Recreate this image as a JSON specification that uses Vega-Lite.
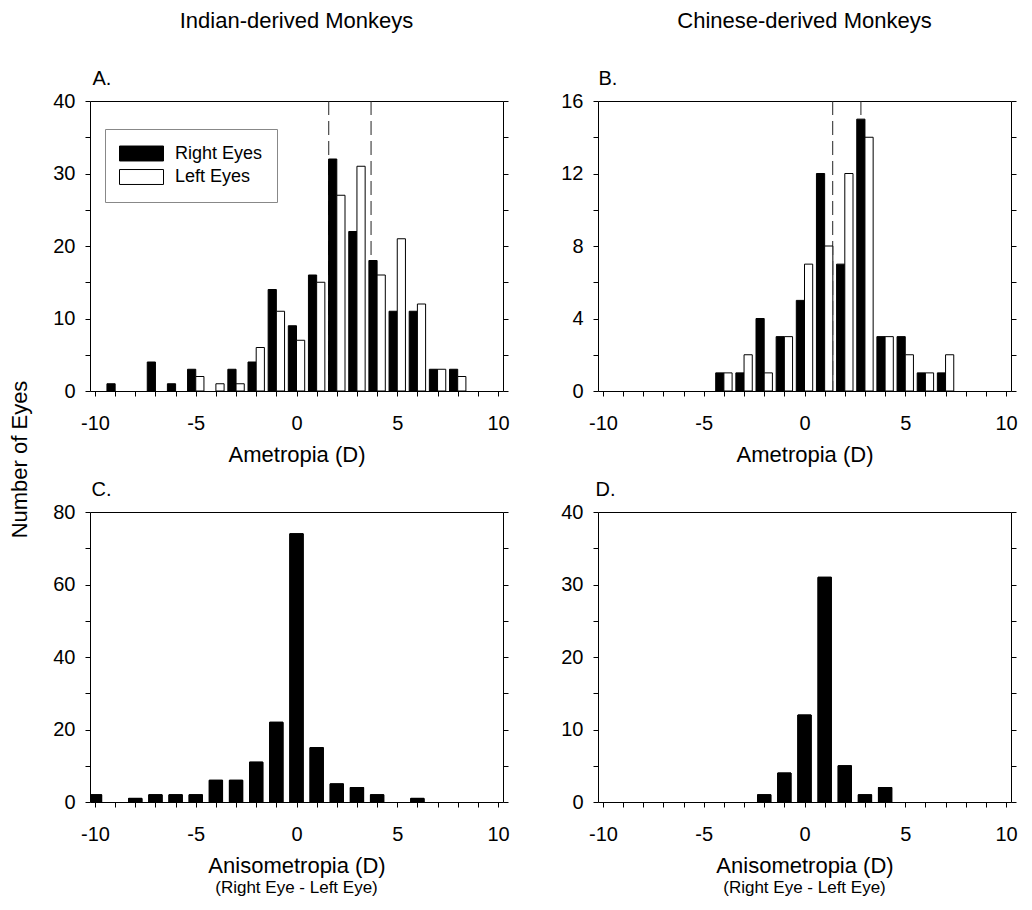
{
  "$schema": "https://vega.github.io/schema/vega-lite/v6.json",
  "padding": {"left": 7, "top": 9, "right": 5, "bottom": 5},
  "background": "white",
  "datasets": {
    "ametropia": [
      {"group": "Indian", "eye": "Right Eyes", "d": -9, "n": 1},
      {"group": "Indian", "eye": "Right Eyes", "d": -7, "n": 4},
      {"group": "Indian", "eye": "Right Eyes", "d": -6, "n": 1},
      {"group": "Indian", "eye": "Right Eyes", "d": -5, "n": 3},
      {"group": "Indian", "eye": "Right Eyes", "d": -3, "n": 3},
      {"group": "Indian", "eye": "Right Eyes", "d": -2, "n": 4},
      {"group": "Indian", "eye": "Right Eyes", "d": -1, "n": 14},
      {"group": "Indian", "eye": "Right Eyes", "d": 0, "n": 9},
      {"group": "Indian", "eye": "Right Eyes", "d": 1, "n": 16},
      {"group": "Indian", "eye": "Right Eyes", "d": 2, "n": 32},
      {"group": "Indian", "eye": "Right Eyes", "d": 3, "n": 22},
      {"group": "Indian", "eye": "Right Eyes", "d": 4, "n": 18},
      {"group": "Indian", "eye": "Right Eyes", "d": 5, "n": 11},
      {"group": "Indian", "eye": "Right Eyes", "d": 6, "n": 11},
      {"group": "Indian", "eye": "Right Eyes", "d": 7, "n": 3},
      {"group": "Indian", "eye": "Right Eyes", "d": 8, "n": 3},
      {"group": "Indian", "eye": "Left Eyes", "d": -5, "n": 2},
      {"group": "Indian", "eye": "Left Eyes", "d": -4, "n": 1},
      {"group": "Indian", "eye": "Left Eyes", "d": -3, "n": 1},
      {"group": "Indian", "eye": "Left Eyes", "d": -2, "n": 6},
      {"group": "Indian", "eye": "Left Eyes", "d": -1, "n": 11},
      {"group": "Indian", "eye": "Left Eyes", "d": 0, "n": 7},
      {"group": "Indian", "eye": "Left Eyes", "d": 1, "n": 15},
      {"group": "Indian", "eye": "Left Eyes", "d": 2, "n": 27},
      {"group": "Indian", "eye": "Left Eyes", "d": 3, "n": 31},
      {"group": "Indian", "eye": "Left Eyes", "d": 4, "n": 16},
      {"group": "Indian", "eye": "Left Eyes", "d": 5, "n": 21},
      {"group": "Indian", "eye": "Left Eyes", "d": 6, "n": 12},
      {"group": "Indian", "eye": "Left Eyes", "d": 7, "n": 3},
      {"group": "Indian", "eye": "Left Eyes", "d": 8, "n": 2},
      {"group": "Chinese", "eye": "Right Eyes", "d": -4, "n": 1},
      {"group": "Chinese", "eye": "Right Eyes", "d": -3, "n": 1},
      {"group": "Chinese", "eye": "Right Eyes", "d": -2, "n": 4},
      {"group": "Chinese", "eye": "Right Eyes", "d": -1, "n": 3},
      {"group": "Chinese", "eye": "Right Eyes", "d": 0, "n": 5},
      {"group": "Chinese", "eye": "Right Eyes", "d": 1, "n": 12},
      {"group": "Chinese", "eye": "Right Eyes", "d": 2, "n": 7},
      {"group": "Chinese", "eye": "Right Eyes", "d": 3, "n": 15},
      {"group": "Chinese", "eye": "Right Eyes", "d": 4, "n": 3},
      {"group": "Chinese", "eye": "Right Eyes", "d": 5, "n": 3},
      {"group": "Chinese", "eye": "Right Eyes", "d": 6, "n": 1},
      {"group": "Chinese", "eye": "Right Eyes", "d": 7, "n": 1},
      {"group": "Chinese", "eye": "Left Eyes", "d": -4, "n": 1},
      {"group": "Chinese", "eye": "Left Eyes", "d": -3, "n": 2},
      {"group": "Chinese", "eye": "Left Eyes", "d": -2, "n": 1},
      {"group": "Chinese", "eye": "Left Eyes", "d": -1, "n": 3},
      {"group": "Chinese", "eye": "Left Eyes", "d": 0, "n": 7},
      {"group": "Chinese", "eye": "Left Eyes", "d": 1, "n": 8},
      {"group": "Chinese", "eye": "Left Eyes", "d": 2, "n": 12},
      {"group": "Chinese", "eye": "Left Eyes", "d": 3, "n": 14},
      {"group": "Chinese", "eye": "Left Eyes", "d": 4, "n": 3},
      {"group": "Chinese", "eye": "Left Eyes", "d": 5, "n": 2},
      {"group": "Chinese", "eye": "Left Eyes", "d": 6, "n": 1},
      {"group": "Chinese", "eye": "Left Eyes", "d": 7, "n": 2}
    ],
    "aniso": [
      {"group": "Indian", "d": -10, "n": 2},
      {"group": "Indian", "d": -8, "n": 1},
      {"group": "Indian", "d": -7, "n": 2},
      {"group": "Indian", "d": -6, "n": 2},
      {"group": "Indian", "d": -5, "n": 2},
      {"group": "Indian", "d": -4, "n": 6},
      {"group": "Indian", "d": -3, "n": 6},
      {"group": "Indian", "d": -2, "n": 11},
      {"group": "Indian", "d": -1, "n": 22},
      {"group": "Indian", "d": 0, "n": 74},
      {"group": "Indian", "d": 1, "n": 15},
      {"group": "Indian", "d": 2, "n": 5},
      {"group": "Indian", "d": 3, "n": 4},
      {"group": "Indian", "d": 4, "n": 2},
      {"group": "Indian", "d": 6, "n": 1},
      {"group": "Chinese", "d": -2, "n": 1},
      {"group": "Chinese", "d": -1, "n": 4},
      {"group": "Chinese", "d": 0, "n": 12},
      {"group": "Chinese", "d": 1, "n": 31},
      {"group": "Chinese", "d": 2, "n": 5},
      {"group": "Chinese", "d": 3, "n": 1},
      {"group": "Chinese", "d": 4, "n": 2}
    ],
    "means": [
      {"group": "Indian", "d": 1.6},
      {"group": "Indian", "d": 3.7},
      {"group": "Chinese", "d": 1.4},
      {"group": "Chinese", "d": 2.8}
    ]
  },
  "columns": 2,
  "spacing": {"row": 121, "column": 95},
  "bounds": "flush",
  "resolve": {"scale": {"fill": "independent"}, "legend": {"fill": "independent"}},
  "concat": [
    {
      "width": 413,
      "height": 290,
      "title": {"text": "Indian-derived Monkeys", "anchor": "middle", "offset": 35},
      "resolve": {"axis": {"x": "independent", "y": "independent"}},
      "layer": [
        {
          "data": {"name": "means"},
          "transform": [{"filter": "datum.group === 'Indian'"}],
          "mark": {"type": "rule", "strokeDash": [14, 6], "color": "#222222", "strokeWidth": 1},
          "encoding": {
            "x": {"field": "d", "type": "quantitative", "scale": {"domain": [-10, 10], "nice": false}, "axis": null}
          }
        },
        {
          "data": {"name": "ametropia"},
          "transform": [{"filter": "datum.group === 'Indian' && datum.eye === 'Right Eyes'"}],
          "mark": {"type": "bar", "orient": "vertical", "width": 8.2, "xOffset": -4.1, "stroke": "black", "strokeWidth": 1},
          "encoding": {
            "x": {"field": "d", "type": "quantitative", "scale": {"domain": [-10, 10], "nice": false},
              "axis": {"orient": "bottom", "values": [-10,-9,-8,-7,-6,-5,-4,-3,-2,-1,0,1,2,3,4,5,6,7,8,9,10], "labelExpr": "datum.value % 5 === 0 ? '' + datum.value : ''", "labelPadding": 17, "title": "Ametropia (D)", "titleY": 70.5, "titleBaseline": "alphabetic"}},
            "y": {"field": "n", "type": "quantitative", "scale": {"domain": [0, 40], "nice": false},
              "axis": {"orient": "left", "values": [0,5,10,15,20,25,30,35,40], "labelExpr": "datum.value % 10 === 0 ? datum.label : ''", "labelPadding": 10, "title": "Number of Eyes", "titleX": -64, "titleY": 358, "titleAngle": 270, "titleAlign": "center", "titleBaseline": "alphabetic"}},
            "fill": {"field": "eye", "type": "nominal", "scale": {"domain": ["Right Eyes", "Left Eyes"], "range": ["black", "white"]},
              "legend": {"title": null, "orient": "none", "legendX": 15, "legendY": 28, "symbolType": "M-1,-0.34H1V0.34H-1Z", "symbolSize": 1936, "symbolStrokeColor": "black", "symbolStrokeWidth": 1, "symbolOpacity": 1, "labelFont": "Liberation Sans", "labelFontSize": 18, "labelColor": "black", "labelOffset": 11, "padding": 14, "strokeColor": "#888888", "fillColor": "white", "clipHeight": 21, "rowPadding": 2.5}}
          }
        },
        {
          "data": {"name": "ametropia"},
          "transform": [{"filter": "datum.group === 'Indian' && datum.eye === 'Left Eyes'"}],
          "mark": {"type": "bar", "orient": "vertical", "width": 8.2, "xOffset": 4.1, "stroke": "black", "strokeWidth": 1},
          "encoding": {
            "x": {"field": "d", "type": "quantitative", "scale": {"domain": [-10, 10], "nice": false},
              "axis": {"orient": "top", "ticks": false, "labels": false, "title": "A.", "titleX": 2, "titleY": -16.7, "titleAlign": "left", "titleBaseline": "alphabetic", "titleFontSize": 20}},
            "y": {"field": "n", "type": "quantitative", "scale": {"domain": [0, 40], "nice": false},
              "axis": {"orient": "right", "values": [0,5,10,15,20,25,30,35,40], "labels": false, "title": null}},
            "fill": {"field": "eye", "type": "nominal", "scale": {"domain": ["Right Eyes", "Left Eyes"], "range": ["black", "white"]}}
          }
        }
      ]
    },
    {
      "width": 413,
      "height": 290,
      "title": {"text": "Chinese-derived Monkeys", "anchor": "middle", "offset": 35},
      "resolve": {"axis": {"x": "independent", "y": "independent"}},
      "layer": [
        {
          "data": {"name": "means"},
          "transform": [{"filter": "datum.group === 'Chinese'"}],
          "mark": {"type": "rule", "strokeDash": [14, 6], "color": "#222222", "strokeWidth": 1},
          "encoding": {
            "x": {"field": "d", "type": "quantitative", "scale": {"domain": [-10, 10], "nice": false}, "axis": null}
          }
        },
        {
          "data": {"name": "ametropia"},
          "transform": [{"filter": "datum.group === 'Chinese' && datum.eye === 'Right Eyes'"}],
          "mark": {"type": "bar", "orient": "vertical", "width": 8.2, "xOffset": -4.1, "fill": "black", "stroke": "black", "strokeWidth": 1},
          "encoding": {
            "x": {"field": "d", "type": "quantitative", "scale": {"domain": [-10, 10], "nice": false},
              "axis": {"orient": "bottom", "values": [-10,-9,-8,-7,-6,-5,-4,-3,-2,-1,0,1,2,3,4,5,6,7,8,9,10], "labelExpr": "datum.value % 5 === 0 ? '' + datum.value : ''", "labelPadding": 17, "title": "Ametropia (D)", "titleY": 70.5, "titleBaseline": "alphabetic"}},
            "y": {"field": "n", "type": "quantitative", "scale": {"domain": [0, 16], "nice": false},
              "axis": {"orient": "left", "values": [0,2,4,6,8,10,12,14,16], "labelExpr": "datum.value % 4 === 0 ? datum.label : ''", "labelPadding": 10, "title": null}}
          }
        },
        {
          "data": {"name": "ametropia"},
          "transform": [{"filter": "datum.group === 'Chinese' && datum.eye === 'Left Eyes'"}],
          "mark": {"type": "bar", "orient": "vertical", "width": 8.2, "xOffset": 4.1, "fill": "white", "stroke": "black", "strokeWidth": 1},
          "encoding": {
            "x": {"field": "d", "type": "quantitative", "scale": {"domain": [-10, 10], "nice": false},
              "axis": {"orient": "top", "ticks": false, "labels": false, "title": "B.", "titleX": 0, "titleY": -16.7, "titleAlign": "left", "titleBaseline": "alphabetic", "titleFontSize": 20}},
            "y": {"field": "n", "type": "quantitative", "scale": {"domain": [0, 16], "nice": false},
              "axis": {"orient": "right", "values": [0,2,4,6,8,10,12,14,16], "labels": false, "title": null}}
          }
        }
      ]
    },
    {
      "width": 413,
      "height": 290,
      "title": {"text": "(Right Eye - Left Eye)", "orient": "bottom", "anchor": "middle", "fontSize": 17, "offset": 3},
      "resolve": {"axis": {"x": "independent", "y": "independent"}},
      "layer": [
        {
          "data": {"name": "aniso"},
          "transform": [{"filter": "datum.group === 'Indian'"}],
          "mark": {"type": "bar", "orient": "vertical", "width": 13.3, "clip": true, "fill": "black", "stroke": "black", "strokeWidth": 1},
          "encoding": {
            "x": {"field": "d", "type": "quantitative", "scale": {"domain": [-10, 10], "nice": false},
              "axis": {"orient": "bottom", "values": [-10,-9,-8,-7,-6,-5,-4,-3,-2,-1,0,1,2,3,4,5,6,7,8,9,10], "labelExpr": "datum.value % 5 === 0 ? '' + datum.value : ''", "labelPadding": 17, "title": "Anisometropia (D)", "titleY": 70.5, "titleBaseline": "alphabetic"}},
            "y": {"field": "n", "type": "quantitative", "scale": {"domain": [0, 80], "nice": false},
              "axis": {"orient": "left", "values": [0,10,20,30,40,50,60,70,80], "labelExpr": "datum.value % 20 === 0 ? datum.label : ''", "labelPadding": 10, "title": null}}
          }
        },
        {
          "data": {"name": "aniso"},
          "transform": [{"filter": "datum.group === 'Indian'"}],
          "mark": {"type": "bar", "orient": "vertical", "width": 13.3, "clip": true, "fill": "black", "stroke": "black", "strokeWidth": 1},
          "encoding": {
            "x": {"field": "d", "type": "quantitative", "scale": {"domain": [-10, 10], "nice": false},
              "axis": {"orient": "top", "ticks": false, "labels": false, "title": "C.", "titleX": 1, "titleY": -16.7, "titleAlign": "left", "titleBaseline": "alphabetic", "titleFontSize": 20}},
            "y": {"field": "n", "type": "quantitative", "scale": {"domain": [0, 80], "nice": false},
              "axis": {"orient": "right", "values": [0,10,20,30,40,50,60,70,80], "labels": false, "title": null}}
          }
        }
      ]
    },
    {
      "width": 413,
      "height": 290,
      "title": {"text": "(Right Eye - Left Eye)", "orient": "bottom", "anchor": "middle", "fontSize": 17, "offset": 3},
      "resolve": {"axis": {"x": "independent", "y": "independent"}},
      "layer": [
        {
          "data": {"name": "aniso"},
          "transform": [{"filter": "datum.group === 'Chinese'"}],
          "mark": {"type": "bar", "orient": "vertical", "width": 13.3, "clip": true, "fill": "black", "stroke": "black", "strokeWidth": 1},
          "encoding": {
            "x": {"field": "d", "type": "quantitative", "scale": {"domain": [-10, 10], "nice": false},
              "axis": {"orient": "bottom", "values": [-10,-9,-8,-7,-6,-5,-4,-3,-2,-1,0,1,2,3,4,5,6,7,8,9,10], "labelExpr": "datum.value % 5 === 0 ? '' + datum.value : ''", "labelPadding": 17, "title": "Anisometropia (D)", "titleY": 70.5, "titleBaseline": "alphabetic"}},
            "y": {"field": "n", "type": "quantitative", "scale": {"domain": [0, 40], "nice": false},
              "axis": {"orient": "left", "values": [0,5,10,15,20,25,30,35,40], "labelExpr": "datum.value % 10 === 0 ? datum.label : ''", "labelPadding": 10, "title": null}}
          }
        },
        {
          "data": {"name": "aniso"},
          "transform": [{"filter": "datum.group === 'Chinese'"}],
          "mark": {"type": "bar", "orient": "vertical", "width": 13.3, "clip": true, "fill": "black", "stroke": "black", "strokeWidth": 1},
          "encoding": {
            "x": {"field": "d", "type": "quantitative", "scale": {"domain": [-10, 10], "nice": false},
              "axis": {"orient": "top", "ticks": false, "labels": false, "title": "D.", "titleX": -3, "titleY": -16.7, "titleAlign": "left", "titleBaseline": "alphabetic", "titleFontSize": 20}},
            "y": {"field": "n", "type": "quantitative", "scale": {"domain": [0, 40], "nice": false},
              "axis": {"orient": "right", "values": [0,5,10,15,20,25,30,35,40], "labels": false, "title": null}}
          }
        }
      ]
    }
  ],
  "config": {
    "font": "Liberation Sans",
    "view": {"stroke": "black", "strokeWidth": 1},
    "axis": {
      "domain": false, "grid": false,
      "tickColor": "black", "tickSize": 5, "tickWidth": 1,
      "labelFont": "Liberation Sans", "labelFontSize": 20, "labelColor": "black",
      "labelOverlap": false, "labelFlush": false,
      "titleFont": "Liberation Sans", "titleFontSize": 22, "titleFontWeight": "normal", "titleColor": "black"
    },
    "title": {"font": "Liberation Sans", "fontSize": 22, "fontWeight": "normal", "color": "black"}
  }
}
